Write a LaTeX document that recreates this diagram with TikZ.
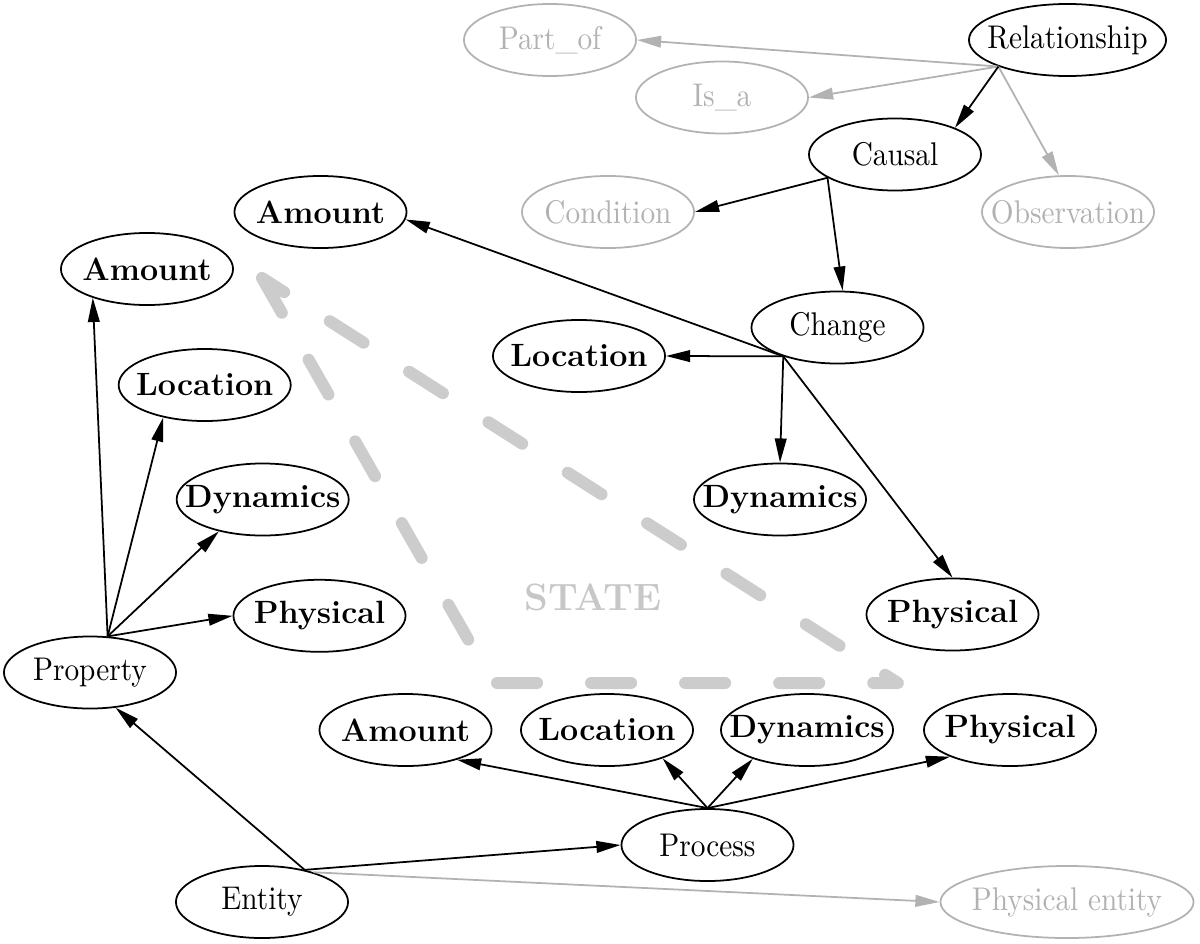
\documentclass[tikz,border=0pt]{standalone}
\usepackage{graphicx}
\usetikzlibrary{arrows.meta,shapes.geometric}
\newcommand{\cptstretch}{1}
\newcommand{\cptopen}{\setbox0\hbox\bgroup}
\newcommand{\cptclose}{\egroup\hbox to 0pt{\hss\scalebox{1}[\cptstretch]{\box0}\hss}}
\begin{document}
\begin{tikzpicture}[x=0.012cm, y=-0.012cm, >={Triangle[length=2.9mm,width=1.4mm]},
  base/.style={draw, ellipse, line width=0.6pt, inner sep=0pt,
    minimum width=2.064cm, minimum height=0.864cm,
    execute at begin node=\cptopen, execute at end node=\cptclose},
  concept/.style={base, font=\fontsize{10}{12}\selectfont, /utils/exec={\def\cptstretch{1.12}}},
  kind/.style={base, font=\fontsize{11}{13}\selectfont\bfseries, /utils/exec={\def\cptstretch{1}}},
  faded/.style={concept, draw=black!30, text=black!30},
  link/.style={->, line width=0.6pt},
  fadedlink/.style={link, black!30}]
\useasboundingbox (0,0) rectangle (1200,944);
% state triangle
\draw[black!20, line width=0.144cm, line cap=round, line join=round,
  dash pattern=on 0.48cm off 0.648cm]
  (262,278) -- (493,683) -- (898,683) -- (262,278);
\node[black!22, font=\fontsize{13}{15}\selectfont\bfseries] (state) at (593,597) {STATE};
% relations
\node[concept, minimum width=2.364cm] (rel) at (1067.5,40) {Relationship};
\node[faded] (partof) at (550,40) {Part\_of};
\node[faded] (isa) at (722,97.5) {Is\_a};
\node[concept] (causal) at (895,154.5) {Causal};
\node[faded] (cond) at (608,212) {Condition};
\node[faded] (obs) at (1068,212) {Observation};
\node[concept] (change) at (837.5,327.5) {Change};
\node[kind] (amtT) at (320.5,212) {Amount};
\node[kind] (locM) at (579,356) {Location};
\node[kind] (dynM) at (780,499.5) {Dynamics};
\node[kind] (physR) at (952.5,614.5) {Physical};
% property
\node[concept] (prop) at (90,672.5) {Property};
\node[kind] (amtL) at (147,269) {Amount};
\node[kind] (locL) at (204.7,385) {Location};
\node[kind] (dynL) at (262.7,499.5) {Dynamics};
\node[kind] (physL) at (319.5,615.8) {Physical};
% process
\node[concept] (process) at (707.5,845) {Process};
\node[kind] (amtB) at (405.5,730) {Amount};
\node[kind] (locB) at (607,730) {Location};
\node[kind] (dynB) at (807,730) {Dynamics};
\node[kind] (physB) at (1010,730) {Physical};
% entity
\node[concept] (entity) at (262,902) {Entity};
\node[faded, minimum width=3.036cm] (physent) at (1067,902) {Physical entity};

% edge hubs
\coordinate (relout) at (rel.201);
\coordinate (causout) at (causal.199);
\coordinate (chgout) at (change.208);
\coordinate (propout) at (prop.64);
\coordinate (procout) at (process.north);
\coordinate (entout) at (entity.37);

\draw[fadedlink] (relout) -- (partof.east);
\draw[fadedlink] (relout) -- (isa.east);
\draw[fadedlink] (relout) -- (obs.104);
\draw[link] (relout) -- (causal.24);
\draw[link] (causout) -- (cond.east);
\draw[link] (causout) -- (change.82);
\draw[link] (chgout) -- (amtT.-5);
\draw[link] (chgout) -- (locM.east);
\draw[link] (chgout) -- (dynM.north);
\draw[link] (chgout) -- (physR.north);
\draw[link] (propout) -- (amtL.208);
\draw[link] (propout) -- (locL.218);
\draw[link] (propout) -- (dynL.216);
\draw[link] (propout) -- (physL.west);
\draw[link] (procout) -- (amtB.-30);
\draw[link] (procout) -- (locB.-27);
\draw[link] (procout) -- (dynB.-152);
\draw[link] (procout) -- (physB.204);
\draw[link] (entout) -- (prop.-54);
\draw[link] (entout) -- (process.west);
\draw[fadedlink] (entity.30) -- (physent.west);
\end{tikzpicture}
\end{document}
